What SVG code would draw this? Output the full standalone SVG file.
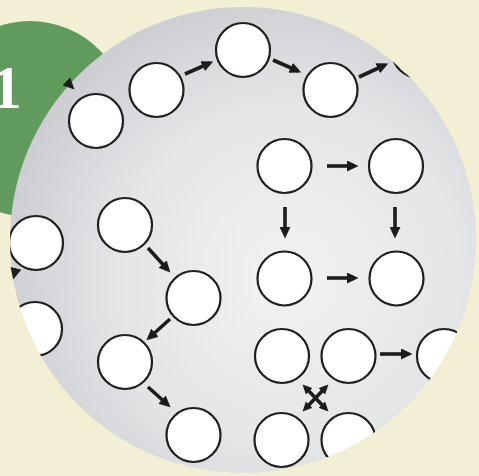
<svg xmlns="http://www.w3.org/2000/svg" width="479" height="476" viewBox="0 0 479 476">
<defs>
<radialGradient id="bg" cx="0.6" cy="0.58" r="0.62">
<stop offset="0" stop-color="#f2f2f2"/>
<stop offset="0.6" stop-color="#e4e5e7"/>
<stop offset="1" stop-color="#ccced2"/>
</radialGradient>
<clipPath id="clip"><circle cx="243" cy="240" r="233"/></clipPath>
<marker id="ah" markerUnits="userSpaceOnUse" markerWidth="12" markerHeight="11" refX="8" refY="5.5" orient="auto-start-reverse" viewBox="0 0 12 11">
<path d="M0,0 L11.5,5.5 L0,11 z" fill="#1c1c1c"/>
</marker>
<marker id="ahs" markerUnits="userSpaceOnUse" markerWidth="10" markerHeight="10" refX="6" refY="4.5" orient="auto-start-reverse" viewBox="0 0 10 9">
<path d="M0,0 L9.5,4.5 L0,9 z" fill="#1c1c1c"/>
</marker>
</defs>
<style>
.n{fill:#fff;stroke:#1f1f1f;stroke-width:2.2}
.c{stroke:#1c1c1c;stroke-width:3.6;fill:none;marker-end:url(#ah)}
.x{stroke:#1c1c1c;stroke-width:3.6;fill:none;marker-end:url(#ahs);marker-start:url(#ahs)}
</style>
<rect width="479" height="476" fill="#f3efd4"/>
<g id="badge">
<circle cx="30" cy="119" r="98" fill="#609a5d"/>
<text x="-9" y="108" font-family="Liberation Serif, serif" font-weight="bold" font-size="62" fill="#fff">1</text>
</g>
<circle id="disc" cx="243" cy="240" r="233" fill="url(#bg)"/>
<g clip-path="url(#clip)">
<g opacity="0.5">
<ellipse cx="369" cy="447" rx="7" ry="6" fill="#f4f4f2"/>
<path d="M372,446 Q400,450 424,460" stroke="#c9cbcc" stroke-width="2" fill="none"/>
</g>
<g id="nA"><circle class="n" cx="96" cy="121" r="27"/></g>
<g id="nB"><circle class="n" cx="156.5" cy="90" r="27"/></g>
<g id="nC"><circle class="n" cx="243" cy="50" r="27"/></g>
<g id="nD"><circle class="n" cx="330.5" cy="90" r="27"/></g>
<g id="nE"><circle class="n" cx="419" cy="51" r="27"/></g>
<g id="nF"><circle class="n" cx="284.5" cy="166" r="27"/></g>
<g id="nG"><circle class="n" cx="396" cy="166" r="27"/></g>
<g id="nH"><circle class="n" cx="284.5" cy="278.5" r="27"/></g>
<g id="nI"><circle class="n" cx="396.5" cy="278.5" r="27"/></g>
<g id="nJ"><circle class="n" cx="282" cy="356" r="27"/></g>
<g id="nK"><circle class="n" cx="348.5" cy="356" r="27"/></g>
<g id="nL"><circle class="n" cx="444" cy="356" r="27"/></g>
<g id="nM"><circle class="n" cx="281.5" cy="440" r="27"/></g>
<g id="nN"><circle class="n" cx="348.5" cy="440" r="27"/></g>
<g id="nP"><circle class="n" cx="36" cy="243" r="27"/></g>
<g id="nQ"><circle class="n" cx="35" cy="329" r="27"/></g>
<g id="nR"><circle class="n" cx="125" cy="225" r="27"/></g>
<g id="nS"><circle class="n" cx="193.5" cy="298" r="27"/></g>
<g id="nT"><circle class="n" cx="125" cy="362" r="27"/></g>
<g id="nU"><circle class="n" cx="193.5" cy="435" r="27"/></g>
</g>
<g id="connectors">
<line class="c" x1="68" y1="83" x2="72" y2="87" style="stroke-width:0"/>
<line class="c" x1="185" y1="74" x2="210" y2="63"/>
<line class="c" x1="273" y1="60" x2="298" y2="71"/>
<line class="c" x1="359" y1="77" x2="385" y2="65"/>
<line class="c" x1="327" y1="166" x2="355" y2="166"/>
<line class="c" x1="285" y1="207" x2="285" y2="235"/>
<line class="c" x1="395" y1="207" x2="395" y2="235"/>
<line class="c" x1="327" y1="278" x2="355" y2="278"/>
<line class="c" x1="380" y1="354" x2="409" y2="354"/>
<line class="x" x1="305" y1="387" x2="326" y2="409"/>
<line class="x" x1="326" y1="387" x2="305" y2="409"/>
<line class="c" x1="15" y1="272" x2="14" y2="276" style="stroke-width:0"/>
<line class="c" x1="148" y1="248" x2="168" y2="270"/>
<line class="c" x1="170" y1="319" x2="149" y2="338"/>
<line class="c" x1="148" y1="387" x2="168" y2="405"/>
</g>
</svg>
